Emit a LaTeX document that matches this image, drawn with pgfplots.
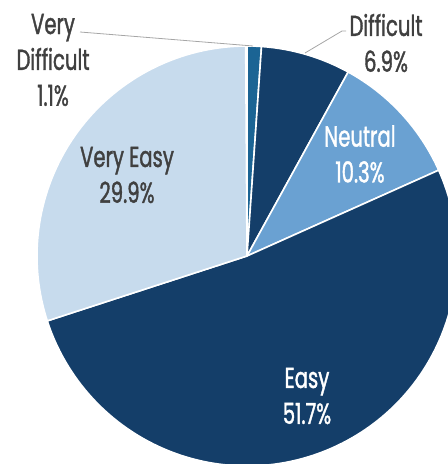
\documentclass[border=0pt]{standalone}
\usepackage{pgfplots}
\pgfplotsset{compat=1.18}
\usepackage{pgfplotstable}
\usepackage{fontspec}
\setmainfont{Poppins}[FakeStretch=0.68, FakeBold=1.3]
\definecolor{cVD}{HTML}{1B6494}
\definecolor{cD}{HTML}{143E69}
\definecolor{cN}{HTML}{6AA1D2}
\definecolor{cE}{HTML}{143E69}
\definecolor{cVE}{HTML}{C7DBED}
\definecolor{txt}{HTML}{404040}
\definecolor{lead}{HTML}{A6A6A6}
\pgfplotstableread{
label value
VeryDifficult 1.1
Difficult 6.9
Neutral 10.3
Easy 51.7
VeryEasy 29.9
}\piedata
\pgfplotstablegetelem{0}{value}\of\piedata \let\vA\pgfplotsretval
\pgfplotstablegetelem{1}{value}\of\piedata \let\vB\pgfplotsretval
\pgfplotstablegetelem{2}{value}\of\piedata \let\vC\pgfplotsretval
\pgfplotstablegetelem{3}{value}\of\piedata \let\vD\pgfplotsretval
\pgfplotstablegetelem{4}{value}\of\piedata \let\vE\pgfplotsretval
\pgfmathsetmacro\aA{90}
\pgfmathsetmacro\aB{90-3.6*\vA}
\pgfmathsetmacro\aC{90-3.6*(\vA+\vB)}
\pgfmathsetmacro\aD{90-3.6*(\vA+\vB+\vC)}
\pgfmathsetmacro\aE{90-3.6*(\vA+\vB+\vC+\vD)}
\pgfmathsetmacro\aF{90-3.6*(\vA+\vB+\vC+\vD+\vE)}
\newcommand\slice[3]{%
  \fill[#3, draw=white, line width=1.6bp, line join=round] (axis cs:247,208) -- ++(#1:210bp) arc[start angle=#1, end angle=#2, radius=210bp] -- cycle;}
\begin{document}
\begin{tikzpicture}
\begin{axis}[
  width=448bp, height=464bp, scale only axis,
  xmin=0, xmax=448, ymin=0, ymax=464,
  axis lines=none, clip=true,
  font=\fontsize{29}{36}\selectfont,
]
\path (axis cs:0,0) rectangle (axis cs:448,464);
\slice{\aA}{\aB}{cVD}
\slice{\aB}{\aC}{cD}
\slice{\aC}{\aD}{cN}
\slice{\aD}{\aE}{cE}
\slice{\aE}{\aF}{cVE}
\draw[lead, line width=0.8bp] (axis cs:80,432) -- (axis cs:253,418);
\draw[lead, line width=0.8bp] (axis cs:305,411) -- (axis cs:342,433) -- (axis cs:346,433);
\node[txt, align=center, inner sep=0pt] at (axis cs:53,404) {Very\\Difficult\\1.1\%};
\node[txt, align=center, inner sep=0pt] at (axis cs:386,421) {Difficult\\6.9\%};
\node[white, align=center, inner sep=0pt] at (axis cs:360,310) {Neutral\\10.3\%};
\node[txt, align=center, inner sep=0pt] at (axis cs:127,289) {Very Easy\\29.9\%};
\node[white, align=center, inner sep=0pt] at (axis cs:307,68) {Easy\\51.7\%};
\end{axis}
\end{tikzpicture}
\end{document}
